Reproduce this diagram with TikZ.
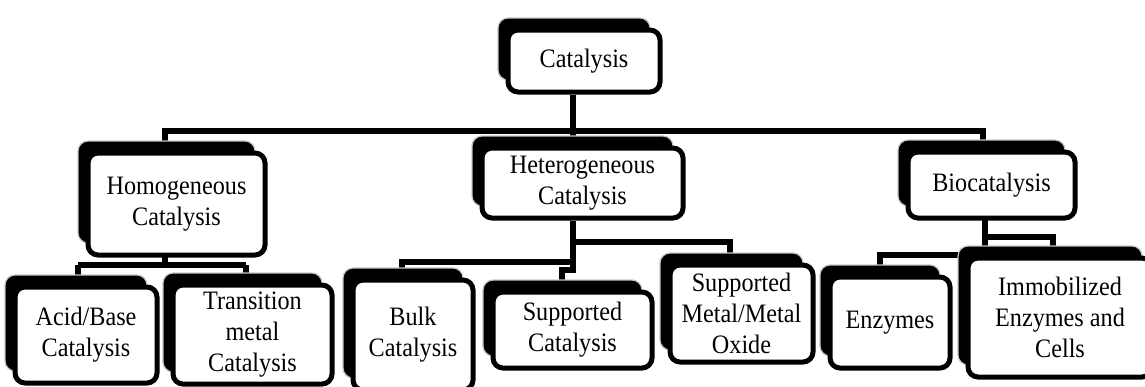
\documentclass[tikz,border=0pt]{standalone}
\usepackage{fontspec}
\setmainfont{Liberation Serif}[FakeStretch=0.91]
\usetikzlibrary{shadows,backgrounds}

\begin{document}
\begin{tikzpicture}[x=0.5pt, y=-0.5pt,
  font=\fontsize{13.3}{15.5}\selectfont,
  box/.style={draw, line width=2.5pt, rounded corners=5pt, fill=white, align=center, inner sep=2pt,
    general shadow={fill=black, draw=gray!45, line width=0.6pt, shadow xshift=-5pt, shadow yshift=6pt}},
  link/.style={line width=2.8pt}]
\useasboundingbox (0,0) rectangle (1145,386);
% top level
\node[box, minimum width=76pt, minimum height=31pt] (cat) at (584,61) {Catalysis};
\node[box, minimum width=88.5pt, minimum height=51pt] (hom) at (176.5,204) {Homogeneous\\Catalysis};
\node[box, minimum width=100.5pt, minimum height=35pt] (het) at (582.5,183) {Heterogeneous\\Catalysis};
\node[box, minimum width=83.5pt, minimum height=33pt] (bio) at (991.5,185) {Biocatalysis};
% leaves
\node[box, minimum width=71pt, minimum height=48pt] (acid) at (86,335) {Acid/Base\\Catalysis};
\node[box, minimum width=79.5pt, minimum height=49.5pt] (trans) at (252.5,334.5) {Transition\\metal\\Catalysis};
\node[box, minimum width=60pt, minimum height=55pt] (bulk) at (413,335) {Bulk\\Catalysis};
\node[box, minimum width=79.5pt, minimum height=38pt] (supp) at (572.5,330) {Supported\\Catalysis};
\node[box, minimum width=71.5pt, minimum height=48.5pt] (smo) at (741.5,313.5) {Supported\\Metal/Metal\\Oxide};
\node[box, minimum width=60pt, minimum height=45.5pt] (enz) at (890,322.5) {Enzymes};
\node[box, minimum width=92pt, minimum height=59.5pt] (imm) at (1060,317.5) {Immobilized\\Enzymes and\\Cells};
% connectors
\coordinate (trunk) at (573,131);
\coordinate (homx) at (165,255);
\coordinate (bioy) at (985,218);
\begin{scope}[on background layer]
\draw[link] (cat.south -| trunk) -- (het.north -| trunk);
\draw[link] (homx |- hom.north) -- (homx |- trunk) -- (983,131) -- (983,140);
\draw[link] (homx) -- (165,265);
\draw[link] (78,265) -- (246,265);
\draw[link] (78,265) -- (78,287);
\draw[link] (246,265) -- (246,285);
\draw[link] (het.south -| trunk) -- (573,270) -- (562,270) -- (562,292);
\draw[link] (573,242) -- (730,242) -- (730,265);
\draw[link] (573,262) -- (402,262) -- (402,280);
\draw[link] (bioy) -- (985,255) -- (880,255) -- (880,277);
\draw[link] (985,237) -- (1053,237) -- (1053,258);
\end{scope}
\end{tikzpicture}
\end{document}
